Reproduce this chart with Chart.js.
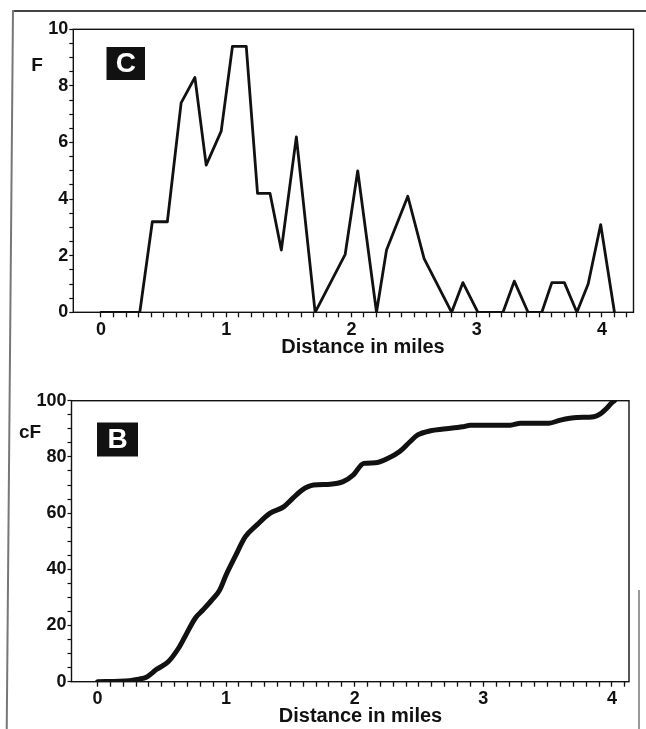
<!DOCTYPE html>
<html>
<head>
<meta charset="utf-8">
<title>Distance in miles - F and cF</title>
<script src="https://cdn.jsdelivr.net/npm/chart.js@4.4.1/dist/chart.umd.min.js"></script>
<style>
  html, body { margin: 0; padding: 0; background: #fff; }
  #page { position: relative; width: 646px; height: 729px; overflow: hidden; background: #fff; }
  #page canvas { position: absolute; left: 0; }
  #chartC { top: 0; }
  #chartB { top: 365px; }
  .scan { position: absolute; }
</style>
</head>
<body>
<div id="page">
  <canvas id="chartC" width="646" height="365"></canvas>
  <canvas id="chartB" width="646" height="364"></canvas>
  <!-- edges of the scanned page -->
  <div class="scan" style="left:12px; top:10px; width:634px; height:1.5px; background:#444;"></div>
  <div class="scan" style="left:12px; top:10px; width:1.5px; height:719px; background:#777; transform-origin:0 0; transform:rotate(0.5deg);"></div>
  <div class="scan" style="left:638px; top:590px; width:1.5px; height:139px; background:#999;"></div>
</div>
<script>
// panel C: frequency F against distance (miles)
const fDistance = [0, 0.31, 0.41, 0.53, 0.64, 0.75, 0.84, 0.96, 1.05, 1.16, 1.25, 1.35, 1.44, 1.56,
  1.71, 1.95, 2.05, 2.2, 2.28, 2.45, 2.58, 2.8, 2.89, 3.01, 3.21, 3.3, 3.41, 3.52, 3.6, 3.7,
  3.8, 3.89, 3.99, 4.1];
const fValues = [0, 0, 3.2, 3.2, 7.4, 8.3, 5.2, 6.4, 9.4, 9.4, 4.2, 4.2, 2.2, 6.2,
  0, 2.05, 5.0, 0, 2.2, 4.1, 1.9, 0, 1.05, 0, 0, 1.1, 0, 0, 1.05, 1.05,
  0, 1.0, 3.1, 0];

// panel B: cumulative frequency cF against distance (miles)
const cfDistance = [0, 0.25, 0.32, 0.38, 0.46, 0.55, 0.63, 0.68, 0.76, 0.82, 0.89, 0.95, 1.0, 1.07,
  1.15, 1.24, 1.34, 1.45, 1.52, 1.59, 1.68, 1.81, 1.91, 1.99, 2.07, 2.16, 2.26, 2.35, 2.43,
  2.49, 2.59, 2.69, 2.84, 2.9, 3.21, 3.29, 3.51, 3.6, 3.73, 3.86, 3.91, 3.96, 4.0, 4.02];
const cfValues = [0, 0.3, 0.9, 1.6, 4.4, 7.1, 11.9, 16, 22.6, 25.5, 29.1, 32.6, 38, 44.5,
  51.6, 55.8, 59.9, 62.3, 65.3, 68.2, 70, 70.3, 71.2, 73.6, 77.7, 77.9, 79.5, 81.9, 85.4,
  87.8, 89.3, 89.9, 90.7, 91.3, 91.3, 92, 92, 93.1, 94, 94.3, 95.3, 97.3, 99.3, 100];

const fTicks = [0, 2, 4, 6, 8, 10];
const cfTicks = [0, 20, 40, 60, 80, 100];
const mileTicks = [0, 1, 2, 3, 4];

const FONT = '"Liberation Sans", Arial, Helvetica, sans-serif';
const INK = '#111';
const tickFont = { family: FONT, size: 18, weight: 'bold' };

const near = (v, list) => list.find(t => Math.abs(t - v) < 1e-6);

// frame round the plot, the black tag, the y name and the x title
const panelDecor = {
  id: 'panelDecor',
  afterDraw(chart, args, opts) {
    const { ctx, chartArea: a } = chart;
    ctx.save();
    ctx.strokeStyle = INK;
    ctx.lineWidth = 1.4;
    ctx.strokeRect(a.left, a.top, a.right - a.left, a.bottom - a.top);

    const [bx, by, bw, bh] = opts.tagBox;
    ctx.fillStyle = INK;
    ctx.fillRect(bx, by, bw, bh);
    ctx.fillStyle = '#fff';
    ctx.textAlign = 'center';
    ctx.textBaseline = 'middle';
    ctx.font = 'bold 28px ' + FONT;
    ctx.fillText(opts.tag, bx + bw / 2, by + bh / 2 + 1);

    ctx.fillStyle = INK;
    ctx.font = 'bold 19px ' + FONT;
    ctx.fillText(opts.yName, opts.yNameAt[0], opts.yNameAt[1]);

    ctx.font = 'bold 20px ' + FONT;
    ctx.fillText(opts.xTitle, opts.xTitleAt[0], opts.xTitleAt[1]);
    ctx.restore();
  }
};

function makeChart(canvasId, xs, ys, cfg) {
  return new Chart(document.getElementById(canvasId), {
    type: 'line',
    data: {
      datasets: [{
        data: xs.map((x, i) => ({ x: x, y: ys[i] })),
        borderColor: INK,
        borderWidth: cfg.lineWidth,
        pointRadius: 0,
        tension: cfg.tension,
        cubicInterpolationMode: cfg.tension ? 'monotone' : 'default',
        borderJoinStyle: 'round',
        borderCapStyle: 'round',
        fill: false
      }]
    },
    options: {
      responsive: false,
      animation: false,
      layout: { padding: cfg.padding },
      plugins: {
        legend: { display: false },
        tooltip: { enabled: false },
        panelDecor: cfg.decor
      },
      scales: {
        x: {
          type: 'linear',
          min: cfg.xMin,
          max: cfg.xMax,
          border: { display: false },
          grid: {
            drawOnChartArea: false,
            tickLength: 5,
            tickWidth: 1.3,
            tickColor: (c) => (c.tick && c.tick.value < -0.001 ? 'rgba(0,0,0,0)' : INK)
          },
          ticks: {
            stepSize: 0.1,
            includeBounds: false,
            autoSkip: false,
            maxRotation: 0,
            padding: 2,
            color: INK,
            font: tickFont,
            callback: (v) => {
              const t = near(v, mileTicks);
              return t === undefined ? '' : String(t);
            }
          },
          afterFit: (s) => { s.height = cfg.xAxisHeight; }
        },
        y: {
          min: 0,
          max: cfg.yMax,
          border: { display: false },
          grid: {
            drawOnChartArea: false,
            tickLength: 4,
            tickWidth: 1.2,
            tickColor: INK
          },
          ticks: {
            stepSize: cfg.yMinor,
            autoSkip: false,
            padding: 1,
            color: INK,
            font: tickFont,
            callback: (v) => {
              const t = near(v, cfg.yTicks);
              return t === undefined ? '' : String(t);
            }
          },
          afterFit: (s) => { s.width = cfg.yAxisWidth; }
        }
      }
    },
    plugins: [panelDecor]
  });
}

makeChart('chartC', fDistance, fValues, {
  lineWidth: 2.8,
  tension: 0,
  padding: { top: 29.3, right: 12.5, left: 0, bottom: 0 },
  xMin: -0.221, xMax: 4.252,
  xAxisHeight: 52.7,
  yMax: 10, yMinor: 0.5, yTicks: fTicks,
  yAxisWidth: 73.3,
  decor: {
    tag: 'C', tagBox: [106.5, 47, 38.5, 33],
    yName: 'F', yNameAt: [37, 66],
    xTitle: 'Distance in miles', xTitleAt: [363, 347]
  }
});

makeChart('chartB', cfDistance, cfValues, {
  lineWidth: 5,
  tension: 0.3,
  padding: { top: 35.7, right: 17, left: 0, bottom: 0 },
  xMin: -0.202, xMax: 4.133,
  xAxisHeight: 47.3,
  yMax: 100, yMinor: 5, yTicks: cfTicks,
  yAxisWidth: 71.5,
  decor: {
    tag: 'B', tagBox: [97, 57.5, 41, 34],
    yName: 'cF', yNameAt: [30, 68],
    xTitle: 'Distance in miles', xTitleAt: [360.5, 351]
  }
});
</script>
</body>
</html>
